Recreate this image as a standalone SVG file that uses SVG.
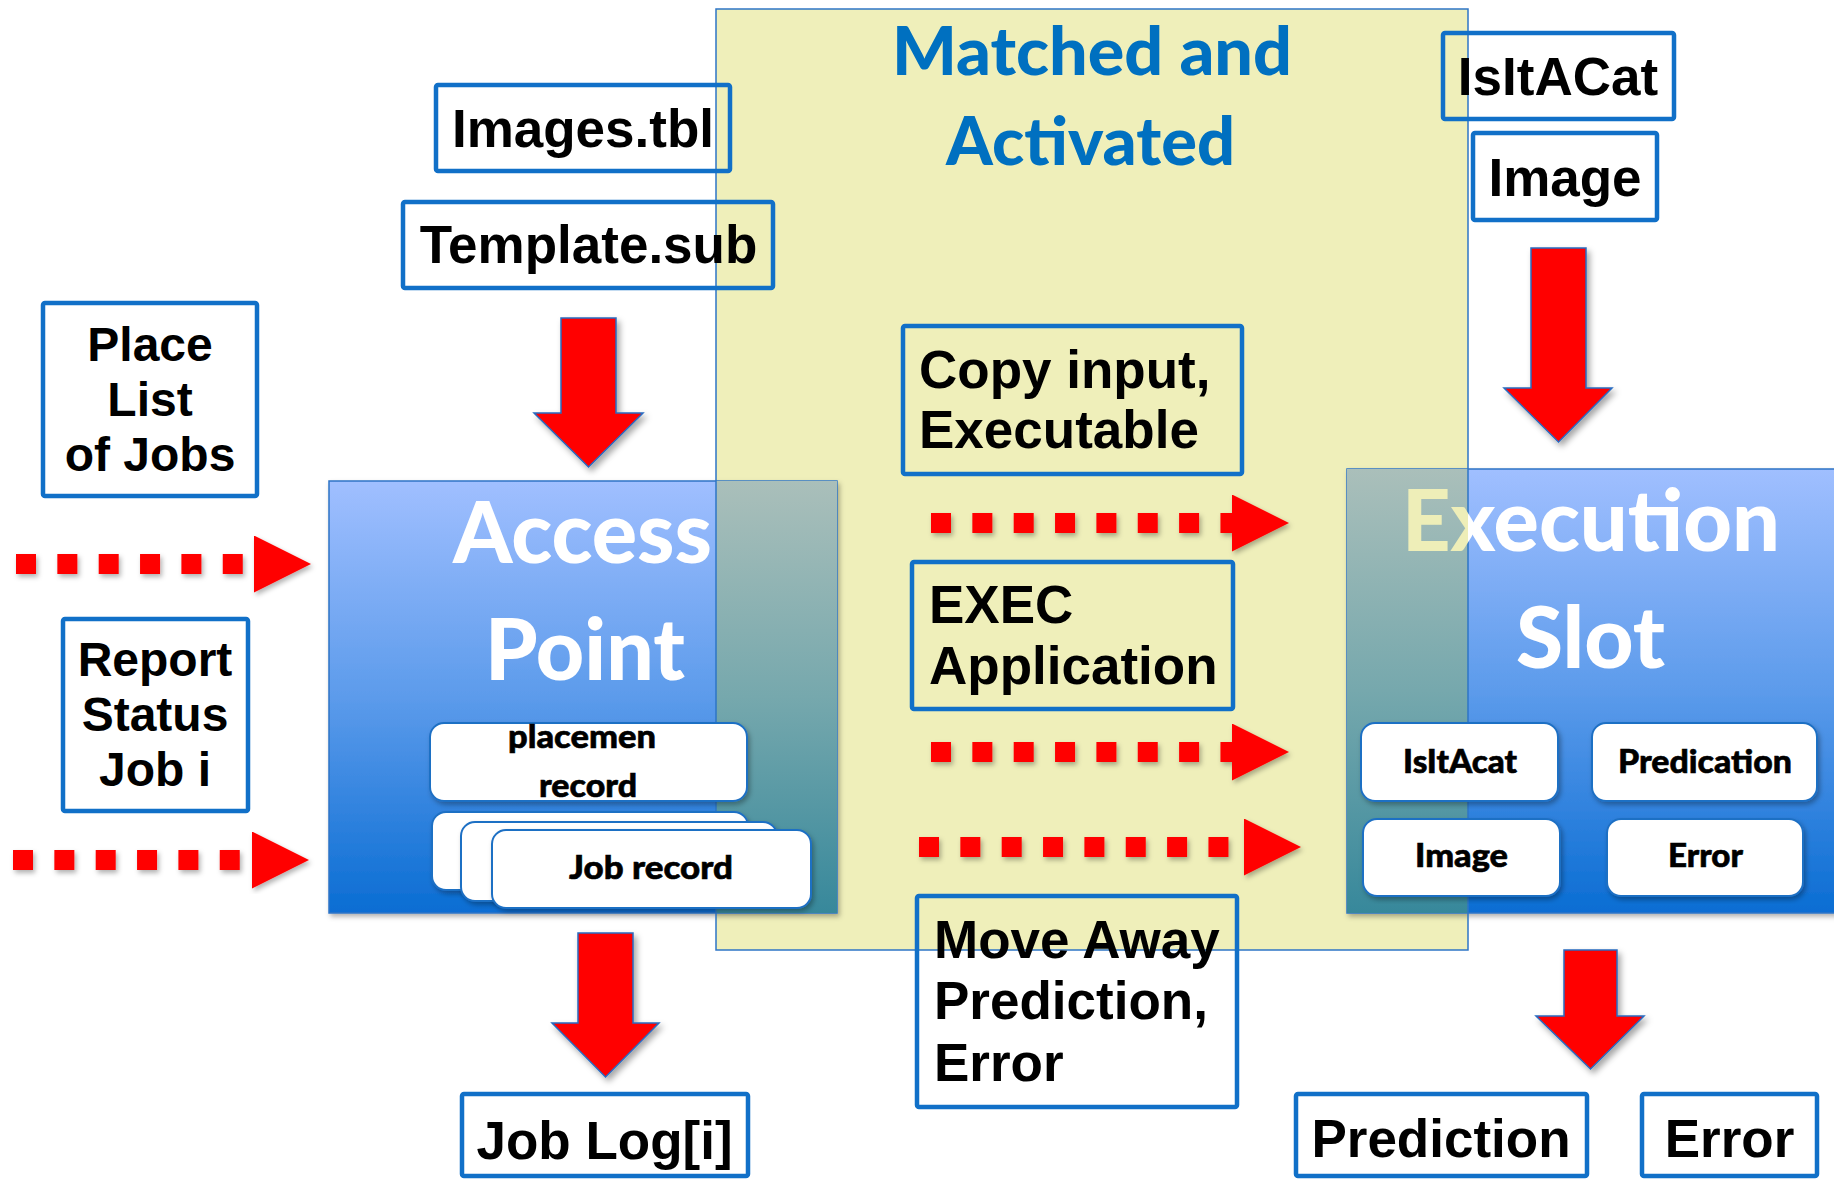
<svg xmlns="http://www.w3.org/2000/svg" width="1834" height="1179" viewBox="0 0 1834 1179">
<style>
.lbl{font-family:"Liberation Sans",Arial,sans-serif;font-weight:bold;fill:#000}
.s53{font-size:53px}
.s48{font-size:48px}
.box{fill:none;stroke:#1170C8;stroke-width:4.5}
.cal{font-family:Lato,"Open Sans",sans-serif;font-weight:900}
.big{fill:#fff;font-size:85px}
.rec{fill:#fff;stroke:#1F6FC4;stroke-width:2}
.rect{fill:#000;font-size:33px;stroke:#000;stroke-width:0.6}
.fat{fill:#f00;stroke:#2A6BC0;stroke-width:1.5}
.dot{fill:none;stroke:#f00;stroke-width:20;stroke-dasharray:20 21.35}
</style>
<defs>
<linearGradient id="blue" x1="0" y1="0" x2="0" y2="1">
<stop offset="0" stop-color="#A0BFFF"/>
<stop offset="0.5" stop-color="#5C9BEB"/>
<stop offset="1" stop-color="#0A6DD3"/>
</linearGradient>
<linearGradient id="teal" x1="0" y1="0" x2="0" y2="1">
<stop offset="0" stop-color="#AABFBA"/>
<stop offset="0.5" stop-color="#76A8AD"/>
<stop offset="1" stop-color="#37889B"/>
</linearGradient>
<linearGradient id="execFill" gradientUnits="userSpaceOnUse" x1="1347" y1="0" x2="1834" y2="0">
<stop offset="0" stop-color="#EEEEB8"/>
<stop offset="0.2485" stop-color="#EEEEB8"/>
<stop offset="0.2485" stop-color="#FFFFFF"/>
<stop offset="1" stop-color="#FFFFFF"/>
</linearGradient>
<filter id="sh" x="-20%" y="-20%" width="140%" height="140%">
<feDropShadow dx="3" dy="4" stdDeviation="3" flood-color="#000" flood-opacity="0.35"/>
</filter>
<filter id="sh2" x="-10%" y="-10%" width="120%" height="120%">
<feDropShadow dx="2" dy="3" stdDeviation="2.5" flood-color="#000" flood-opacity="0.3"/>
</filter>
<marker id="tri" markerUnits="userSpaceOnUse" viewBox="0 0 57 57" markerWidth="57" markerHeight="57" refX="0" refY="28.5" orient="auto">
<path d="M0,0 L57,28.5 L0,57 Z" fill="#f00"/>
</marker>
</defs>

<g id="matched-activated">
<rect x="716" y="9" width="752" height="941" fill="#EFEFBA"/>
</g>

<g id="access-point">
<rect x="329" y="481" width="508" height="432" fill="url(#blue)" stroke="#2F74C6" stroke-width="1.5" filter="url(#sh2)"/>
<rect x="716" y="481" width="121" height="432" fill="url(#teal)"/>
</g>

<g id="execution-slot">
<rect x="1347" y="469" width="490" height="444" fill="url(#blue)" stroke="#2F74C6" stroke-width="1.5" filter="url(#sh2)"/>
<rect x="1347" y="469" width="121" height="444" fill="url(#teal)"/>
</g>

<g id="matched-activated-outline">
<rect x="716" y="9" width="752" height="941" fill="none" stroke="#2E75C6" stroke-width="1.5"/>
<text class="cal" font-size="66" fill="#0070C0" x="1092" y="75" text-anchor="middle" textLength="400" lengthAdjust="spacingAndGlyphs">Matched and</text>
<text class="cal" font-size="66" fill="#0070C0" x="1090.5" y="165" text-anchor="middle" textLength="289" lengthAdjust="spacingAndGlyphs">Activated</text>
</g>

<g id="access-point-title">
<text class="cal big" x="582.5" y="563" text-anchor="middle" textLength="259" lengthAdjust="spacingAndGlyphs">Access</text>
<text class="cal big" x="585" y="680" text-anchor="middle" textLength="200" lengthAdjust="spacingAndGlyphs">Point</text>
</g>

<g id="execution-slot-title">
<text class="cal" font-size="85" fill="url(#execFill)" x="1591" y="551" text-anchor="middle" textLength="378" lengthAdjust="spacingAndGlyphs">Execution</text>
<text class="cal big" x="1590.5" y="668" text-anchor="middle" textLength="149" lengthAdjust="spacingAndGlyphs">Slot</text>
</g>

<g id="placement-record">
<rect class="rec" x="430" y="723" width="317" height="78" rx="14" filter="url(#sh2)"/>
<text class="cal rect" x="582" y="748" text-anchor="middle" textLength="148" lengthAdjust="spacingAndGlyphs">placemen</text>
<text class="cal rect" x="588" y="797" text-anchor="middle" textLength="98" lengthAdjust="spacingAndGlyphs">record</text>
</g>

<g id="job-records">
<rect class="rec" x="432" y="812" width="316" height="78" rx="14" filter="url(#sh2)"/>
<rect class="rec" x="461" y="822" width="316" height="79" rx="14" filter="url(#sh2)"/>
<rect class="rec" x="492" y="830" width="319" height="78" rx="14" filter="url(#sh2)"/>
<text class="cal rect" x="651" y="879" text-anchor="middle" textLength="164" lengthAdjust="spacingAndGlyphs">Job record</text>
</g>

<g id="slot-isitacat">
<rect class="rec" x="1361" y="723" width="197" height="78" rx="14" filter="url(#sh2)"/>
<text class="cal rect" x="1460" y="773" text-anchor="middle" textLength="114" lengthAdjust="spacingAndGlyphs">IsItAcat</text>
</g>
<g id="slot-predication">
<rect class="rec" x="1592" y="723" width="225" height="78" rx="14" filter="url(#sh2)"/>
<text class="cal rect" x="1705" y="773" text-anchor="middle" textLength="174" lengthAdjust="spacingAndGlyphs">Predication</text>
</g>
<g id="slot-image">
<rect class="rec" x="1363" y="819" width="197" height="77" rx="14" filter="url(#sh2)"/>
<text class="cal rect" x="1461.5" y="867" text-anchor="middle" textLength="93" lengthAdjust="spacingAndGlyphs">Image</text>
</g>
<g id="slot-error">
<rect class="rec" x="1607" y="819" width="196" height="77" rx="14" filter="url(#sh2)"/>
<text class="cal rect" x="1705.5" y="867" text-anchor="middle" textLength="75" lengthAdjust="spacingAndGlyphs">Error</text>
</g>

<g id="images-tbl">
<rect class="box" x="436" y="85" width="294" height="86" rx="2"/>
<text class="lbl s53" x="583" y="147" text-anchor="middle">Images.tbl</text>
</g>
<g id="template-sub">
<rect class="box" x="403" y="202" width="370" height="86" rx="2"/>
<text class="lbl s53" x="588.5" y="263" text-anchor="middle">Template.sub</text>
</g>
<g id="place-list">
<rect class="box" x="43" y="303" width="214" height="193" rx="2"/>
<text class="lbl s48" text-anchor="middle"><tspan x="150" y="361">Place</tspan><tspan x="150" y="416">List</tspan><tspan x="150" y="471">of Jobs</tspan></text>
</g>
<g id="report-status">
<rect class="box" x="63" y="619" width="185" height="192" rx="2"/>
<text class="lbl s48" text-anchor="middle"><tspan x="155" y="676">Report</tspan><tspan x="155" y="731">Status</tspan><tspan x="155" y="786">Job i</tspan></text>
</g>
<g id="copy-input">
<rect class="box" x="903" y="326" width="339" height="148" rx="2"/>
<text class="lbl s53"><tspan x="919" y="388">Copy input,</tspan><tspan x="919" y="448">Executable</tspan></text>
</g>
<g id="exec-application">
<rect class="box" x="912" y="562" width="321" height="147" rx="2"/>
<text class="lbl s53"><tspan x="929" y="623">EXEC</tspan><tspan x="929" y="684">Application</tspan></text>
</g>
<g id="move-away">
<rect class="box" x="917" y="896" width="320" height="211" rx="2"/>
<text class="lbl s53"><tspan x="934" y="958">Move Away</tspan><tspan x="934" y="1019">Prediction,</tspan><tspan x="934" y="1081">Error</tspan></text>
</g>
<g id="job-log">
<rect class="box" x="462" y="1094" width="286" height="82" rx="2"/>
<text class="lbl s53" x="604.5" y="1159" text-anchor="middle">Job Log[i]</text>
</g>
<g id="prediction">
<rect class="box" x="1296" y="1094" width="291" height="82" rx="2"/>
<text class="lbl s53" x="1441" y="1157" text-anchor="middle">Prediction</text>
</g>
<g id="error">
<rect class="box" x="1642" y="1094" width="175" height="82" rx="2"/>
<text class="lbl s53" x="1729.5" y="1157" text-anchor="middle">Error</text>
</g>
<g id="isitacat">
<rect class="box" x="1443" y="33" width="231" height="86" rx="2"/>
<text class="lbl s53" x="1558" y="95" text-anchor="middle">IsItACat</text>
</g>
<g id="image">
<rect class="box" x="1473" y="133" width="184" height="87" rx="2"/>
<text class="lbl s53" x="1565" y="196" text-anchor="middle">Image</text>
</g>

<g id="connectors">
<polygon class="fat" filter="url(#sh)" points="561,318 616,318 616,413 643,413 588.5,467 534,413 561,413"/>
<polygon class="fat" filter="url(#sh)" points="1531,248 1586,248 1586,388 1612,388 1558.5,442 1504,388 1531,388"/>
<polygon class="fat" filter="url(#sh)" points="578,933 633,933 633,1023 659,1023 605.5,1077 552,1023 578,1023"/>
<polygon class="fat" filter="url(#sh)" points="1564,950 1617,950 1617,1016 1644,1016 1590.5,1069 1536,1016 1564,1016"/>
<g filter="url(#sh2)">
<path class="dot" d="M16,564 H254" marker-end="url(#tri)"/>
<path class="dot" d="M13,860 H252" marker-end="url(#tri)"/>
<path class="dot" d="M931,523 H1232" marker-end="url(#tri)"/>
<path class="dot" d="M931,752 H1232" marker-end="url(#tri)"/>
<path class="dot" d="M919,847 H1244" marker-end="url(#tri)"/>
</g>
</g>
</svg>
